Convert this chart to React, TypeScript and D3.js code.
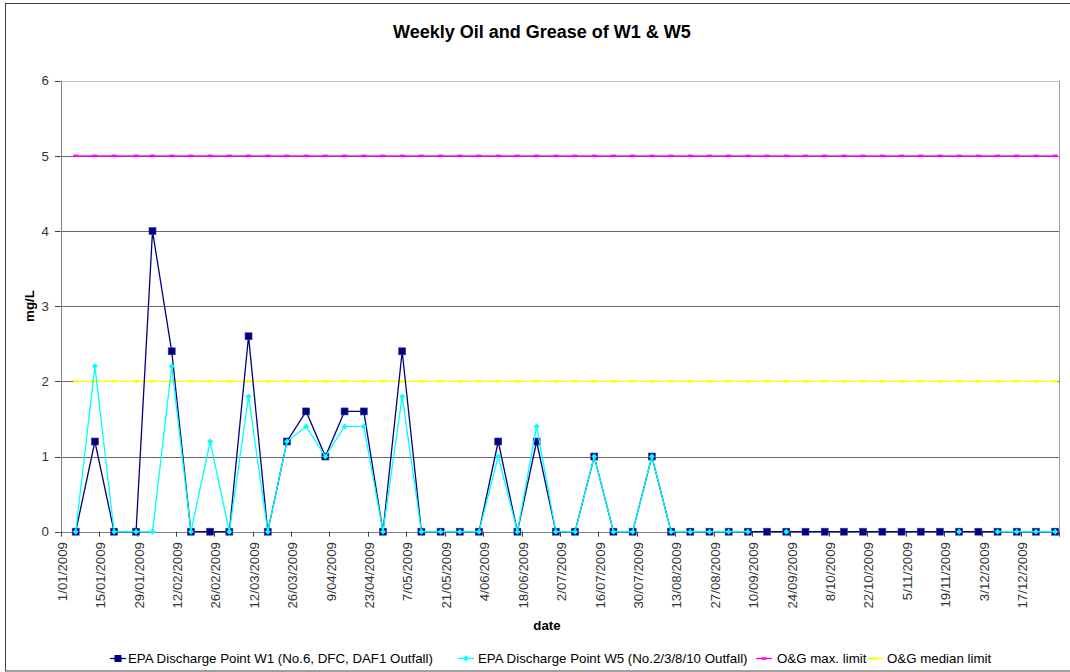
import React from "react";
import * as d3 from "d3";

const sampleDates = [
  "6/01/2009", "13/01/2009", "20/01/2009", "28/01/2009", "3/02/2009", "10/02/2009", "17/02/2009", "24/02/2009",
  "3/03/2009", "10/03/2009", "17/03/2009", "24/03/2009", "31/03/2009", "7/04/2009", "14/04/2009", "21/04/2009",
  "28/04/2009", "5/05/2009", "12/05/2009", "19/05/2009", "26/05/2009", "2/06/2009", "9/06/2009", "16/06/2009",
  "23/06/2009", "30/06/2009", "7/07/2009", "14/07/2009", "21/07/2009", "28/07/2009", "4/08/2009", "11/08/2009",
  "18/08/2009", "25/08/2009", "1/09/2009", "8/09/2009", "15/09/2009", "22/09/2009", "29/09/2009", "6/10/2009",
  "13/10/2009", "20/10/2009", "27/10/2009", "3/11/2009", "10/11/2009", "17/11/2009", "24/11/2009", "1/12/2009",
  "8/12/2009", "15/12/2009", "22/12/2009", "29/12/2009",
];

const w1Values: (number | null)[] = [
  0, 1.2, 0, 0, 4.0, 2.4, 0, 0, 0, 2.6, 0, 1.2, 1.6, 1.0, 1.6, 1.6,
  0, 2.4, 0, 0, 0, 0, 1.2, 0, 1.2, 0, 0, 1.0, 0, 0, 1.0, 0,
  0, 0, 0, 0, 0, 0, 0, 0, 0, 0, 0, 0, 0, 0, 0, 0,
  0, 0, 0, 0,
];

const w5Values: (number | null)[] = [
  0, 2.2, 0, 0, 0, 2.2, 0, 1.2, 0, 1.8, 0, 1.2, 1.4, 1.0, 1.4, 1.4,
  0, 1.8, 0, 0, 0, 0, 1.0, 0, 1.4, 0, 0, 1.0, 0, 0, 1.0, 0,
  0, 0, 0, 0, null, 0, null, null, null, null, null, null, null, null, 0, null,
  0, 0, 0, 0,
];

const maxLimitValues = [
  5, 5, 5, 5, 5, 5, 5, 5, 5, 5, 5, 5, 5, 5, 5, 5, 5, 5, 5, 5, 5, 5, 5, 5, 5, 5,
  5, 5, 5, 5, 5, 5, 5, 5, 5, 5, 5, 5, 5, 5, 5, 5, 5, 5, 5, 5, 5, 5, 5, 5, 5, 5,
];

const medianLimitValues = [
  2, 2, 2, 2, 2, 2, 2, 2, 2, 2, 2, 2, 2, 2, 2, 2, 2, 2, 2, 2, 2, 2, 2, 2, 2, 2,
  2, 2, 2, 2, 2, 2, 2, 2, 2, 2, 2, 2, 2, 2, 2, 2, 2, 2, 2, 2, 2, 2, 2, 2, 2, 2,
];

const xTickDates = [
  "1/01/2009", "15/01/2009", "29/01/2009", "12/02/2009", "26/02/2009", "12/03/2009", "26/03/2009",
  "9/04/2009", "23/04/2009", "7/05/2009", "21/05/2009", "4/06/2009", "18/06/2009", "2/07/2009",
  "16/07/2009", "30/07/2009", "13/08/2009", "27/08/2009", "10/09/2009", "24/09/2009", "8/10/2009",
  "22/10/2009", "5/11/2009", "19/11/2009", "3/12/2009", "17/12/2009", "31/12/2009",
];
const xDomain = ["1/01/2009", "31/12/2009"];
const yTicks = [0, 1, 2, 3, 4, 5, 6];

const seriesNames = [
  "EPA Discharge Point W1 (No.6, DFC, DAF1 Outfall)",
  "EPA Discharge Point W5 (No.2/3/8/10 Outfall)",
  "O&G max. limit",
  "O&G median limit",
];

const parseDate = (s: string) => {
  const [d, m, y] = s.split("/").map(Number);
  return new Date(Date.UTC(y, m - 1, d));
};

const FONT = "'Liberation Sans', Arial, sans-serif";
const W = 1070;
const H = 672;
const PL = 60.6;
const PR = 1059.3;
const PT = 80.7;
const PB = 531.7;

export default function App() {
  const x = d3.scaleUtc().domain(xDomain.map(parseDate)).range([PL, PR]);
  const y = d3.scaleLinear().domain([0, 6]).range([PB, PT]);
  const px = (s: string) => x(d3.utcHour.offset(parseDate(s), 12));

  const mk = (vals: (number | null)[]) =>
    sampleDates.map((d, i) => ({ x: px(d), v: vals[i] }));

  const line = d3
    .line<{ x: number; v: number | null }>()
    .defined((d) => d.v != null)
    .x((d) => d.x)
    .y((d) => y(d.v as number));

  const w1 = mk(w1Values);
  const w5 = mk(w5Values);
  const mx = mk(maxLimitValues);
  const md = mk(medianLimitValues);

  const diamond = (cx: number, cy: number, r: number) =>
    `M${cx},${cy - r}L${cx + r},${cy}L${cx},${cy + r}L${cx - r},${cy}Z`;

  const legendY = 658;
  const legendItems = [
    { sx: 118, tx: 128, color: "#000080", kind: "square" },
    { sx: 466, tx: 478, color: "#00FFFF", kind: "diamond" },
    { sx: 764, tx: 777, color: "#FF00FF", kind: "dash" },
    { sx: 875, tx: 887, color: "#FFFF00", kind: "dash" },
  ];

  return (
    <div style={{ position: "absolute", left: 0, top: 0 }}>
      <svg width={W} height={H} style={{ display: "block" }} fontFamily={FONT}>
        <rect x={0} y={0} width={W} height={H} fill="#fff" />
        <rect x={5.5} y={3.5} width={W + 10} height={667.5} fill="none" stroke="#404040" strokeWidth={1} />

        <text x={542} y={38} textAnchor="middle" fontSize={18} fontWeight="bold" fill="#000">
          Weekly Oil and Grease of W1 &amp; W5
        </text>

        {/* grid */}
        {yTicks.filter((t) => t > 0 && t < 6).map((t) => (
          <line key={t} x1={PL} x2={PR} y1={Math.round(y(t)) + 0.5} y2={Math.round(y(t)) + 0.5} stroke="#666" strokeWidth={1} />
        ))}
        <line x1={PL} x2={PR} y1={Math.round(PT) + 0.5} y2={Math.round(PT) + 0.5} stroke="#c0c0c0" />
        <line x1={Math.round(PR) + 0.5} x2={Math.round(PR) + 0.5} y1={PT} y2={PB} stroke="#a0a0a0" />

        {/* y axis */}
        <line x1={Math.round(PL) + 0.5} x2={Math.round(PL) + 0.5} y1={PT} y2={PB + 1} stroke="#808080" />
        {yTicks.map((t) => (
          <g key={t}>
            <line x1={55} x2={PL} y1={Math.round(y(t)) + 0.5} y2={Math.round(y(t)) + 0.5} stroke="#404040" />
            <text x={49} y={y(t)} dy="0.35em" textAnchor="end" fontSize={13.3} fill="#333">
              {t}
            </text>
          </g>
        ))}
        <text
          transform={`translate(34,306) rotate(-90)`}
          textAnchor="middle"
          fontSize={13.3}
          fontWeight="bold"
          fill="#000"
        >
          mg/L
        </text>

        {/* x axis */}
        <line x1={PL} x2={PR} y1={Math.round(PB) + 0.5} y2={Math.round(PB) + 0.5} stroke="#808080" />
        {xTickDates.map((s, i) => {
          const tx = Math.round(x(parseDate(s))) + 0.5;
          return (
            <g key={s}>
              <line x1={tx} x2={tx} y1={PB} y2={PB + 5} stroke="#404040" />
              {i < xTickDates.length - 1 && (
                <text
                  transform={`translate(${x(parseDate(s)) + 1.5},542) rotate(-90)`}
                  textAnchor="end"
                  dy="0.35em"
                  fontSize={13.3}
                  fill="#333"
                >
                  {s}
                </text>
              )}
            </g>
          );
        })}
        <text x={547} y={630} textAnchor="middle" fontSize={13.3} fontWeight="bold" fill="#000">
          date
        </text>

        {/* limit lines */}
        <path d={line(mx) || ""} fill="none" stroke="#FF00FF" strokeWidth={1.3} />
        {mx.map((d, i) => (
          <rect key={"m" + i} x={d.x - 2.5} y={y(d.v as number) - 1.25} width={5} height={2.5} fill="#FF00FF" />
        ))}
        <path d={line(md) || ""} fill="none" stroke="#FFFF00" strokeWidth={1.3} />
        {md.map((d, i) => (
          <rect key={"d" + i} x={d.x - 2.5} y={y(d.v as number) - 1.25} width={5} height={2.5} fill="#FFFF00" />
        ))}

        {/* W1 */}
        <path d={line(w1) || ""} fill="none" stroke="#000080" strokeWidth={1.3} />
        {w1.filter((d) => d.v != null).map((d, i) => (
          <rect key={"w1" + i} x={d.x - 3.5} y={y(d.v as number) - 3.5} width={7} height={7} fill="#000080" stroke="#3a3a99" strokeWidth={0.6} />
        ))}

        {/* W5 */}
        <path d={line(w5) || ""} fill="none" stroke="#00FFFF" strokeWidth={1.3} />
        {w5.filter((d) => d.v != null).map((d, i) => (
          <path key={"w5" + i} d={diamond(d.x, y(d.v as number), 3)} fill="#00FFFF" />
        ))}

        {/* legend */}
        {legendItems.map((it, i) => (
          <g key={i}>
            <line x1={it.sx - 8} x2={it.sx + 8} y1={legendY + 0.5} y2={legendY + 0.5} stroke={it.color} strokeWidth={1.3} />
            {it.kind === "square" && (
              <rect x={it.sx - 3.5} y={legendY - 3} width={7} height={7} fill="#000080" />
            )}
            {it.kind === "diamond" && <path d={diamond(it.sx, legendY + 0.5, 3)} fill="#00FFFF" />}
            {it.kind === "dash" && (
              <rect x={it.sx - 2.5} y={legendY - 0.75} width={5} height={2.5} fill={it.color} />
            )}
            <text x={it.tx} y={legendY} dy="0.35em" fontSize={13.3} fill="#000">
              {seriesNames[i]}
            </text>
          </g>
        ))}
      </svg>
    </div>
  );
}
